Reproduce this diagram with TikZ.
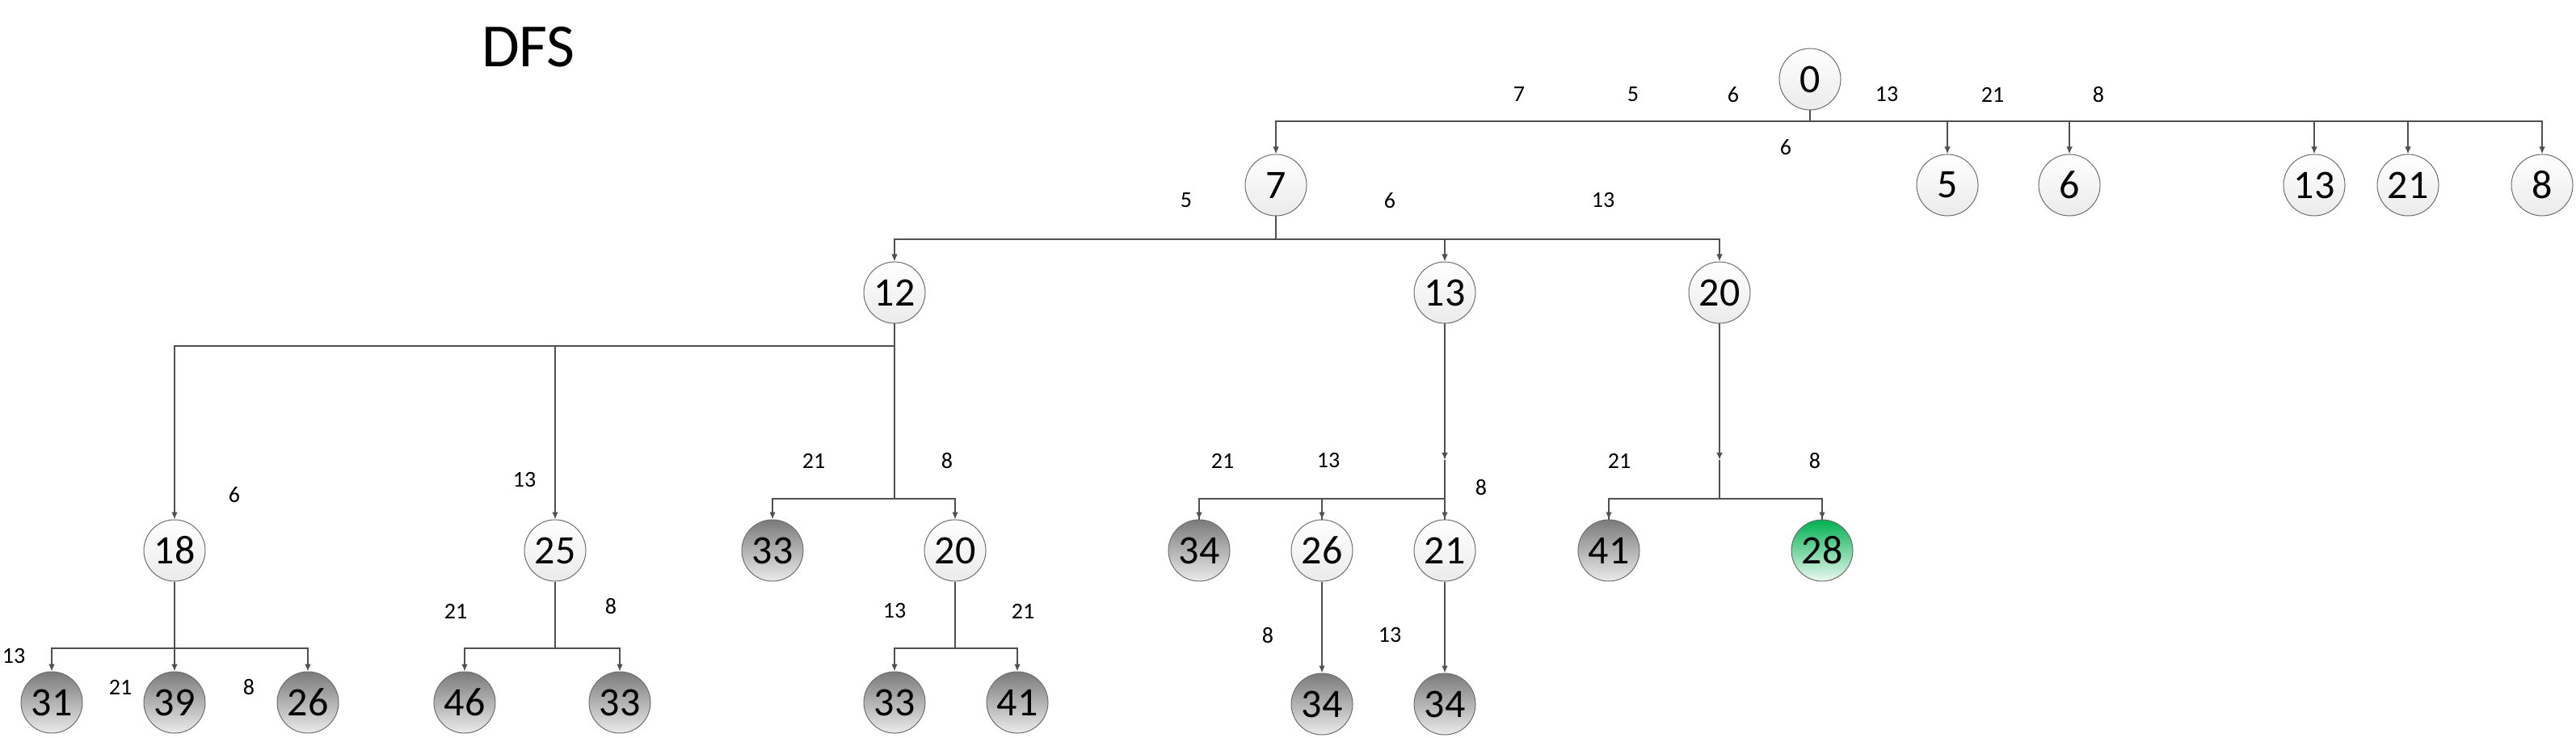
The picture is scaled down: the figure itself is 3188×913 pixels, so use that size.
\documentclass[tikz,border=0pt]{standalone}
\usepackage{fontspec}
\setmainfont{Carlito}
\usepackage{tikz}
\usetikzlibrary{arrows.meta, positioning, calc, shapes}

\definecolor{linkgray}{RGB}{80,80,80}
\definecolor{rimgray}{RGB}{110,110,110}
\definecolor{goalgreen}{RGB}{0,176,80}

\begin{document}
\begin{tikzpicture}[x=0.5pt,y=-0.5pt,
  vertex/.style={circle,draw=rimgray,line width=0.5pt,minimum size=38pt,inner sep=0pt,
    font=\fontsize{25}{25}\selectfont},
  open/.style={vertex,top color=white,bottom color=black!8},
  done/.style={vertex,top color=black!52,bottom color=black!8},
  goal/.style={vertex,top color=goalgreen,bottom color=goalgreen!8},
  weight/.style={inner sep=0pt,font=\fontsize{14}{14}\selectfont},
  link/.style={draw=linkgray,line width=0.7pt},
  arr/.style={link,-{Latex[length=4.5pt,width=3.8pt]}}]
\useasboundingbox (0,0) rectangle (3188,913);

\node[font=\fontsize{38}{38}\selectfont] (title) at (654,58) {DFS};

% level 0 and 1
\node[open] (n0) at (2240,98) {0};
\node[open] (a7) at (1579,229) {7};
\node[open] (a5) at (2410,229) {5};
\node[open] (a6) at (2561,229) {6};
\node[open] (a13) at (2864,229) {13};
\node[open] (a21) at (2980,229) {21};
\node[open] (a8) at (3146,229) {8};
\coordinate (j0) at (2240,150);
\foreach \c in {a7,a5,a6,a13,a21,a8} {
  \draw[arr] (n0) -- (j0) -| (\c);
}

% level 2
\node[open] (b12) at (1107,362) {12};
\node[open] (b13) at (1788,362) {13};
\node[open] (b20) at (2128,362) {20};
\coordinate (j7) at (1579,296);
\foreach \c in {b12,b13,b20} {
  \draw[arr] (a7) -- (j7) -| (\c);
}

% level 3
\node[open] (c18) at (216,681) {18};
\node[open] (c25) at (687,681) {25};
\node[done] (c33) at (956,681) {33};
\node[open] (c20) at (1182,681) {20};
\node[done] (c34) at (1484,681) {34};
\node[open] (c26) at (1636,681) {26};
\node[open] (c21) at (1788,681) {21};
\node[done] (c41) at (1991,681) {41};
\node[goal] (c28) at (2255,681) {28};

\coordinate (j12a) at (1107,428);
\coordinate (j12b) at (1107,617);
\foreach \c in {c18,c25} {
  \draw[arr] (b12) -- (j12a) -| (\c);
}
\foreach \c in {c33,c20} {
  \draw[arr] (b12) -- (j12b) -| (\c);
}
\coordinate (m13) at (1788,569);
\coordinate (j13) at (1788,617);
\foreach \c in {c34,c26,c21} {
  \draw[link] (m13) -- (j13) -| (\c);
  \draw[arr] ($(\c.north)+(0,-12)$) -- (\c);
}
\draw[arr] (b13) -- (m13);
\coordinate (m20) at (2128,569);
\coordinate (j20) at (2128,617);
\foreach \c in {c41,c28} {
  \draw[link] (m20) -- (j20) -| (\c);
  \draw[arr] ($(\c.north)+(0,-12)$) -- (\c);
}
\draw[arr] (b20) -- (m20);

% level 4
\node[done] (d31) at (64,869) {31};
\node[done] (d39) at (216,869) {39};
\node[done] (d26) at (381,869) {26};
\node[done] (d46) at (575,869) {46};
\node[done] (d33) at (767,869) {33};
\node[done] (e33) at (1107,869) {33};
\node[done] (e41) at (1259,869) {41};
\node[done] (f34) at (1636,871) {34};
\node[done] (g34) at (1788,871) {34};

\coordinate (j18) at (216,802);
\foreach \c in {d31,d39,d26} {
  \draw[arr] (c18) -- (j18) -| (\c);
}
\coordinate (j25) at (687,802);
\foreach \c in {d46,d33} {
  \draw[arr] (c25) -- (j25) -| (\c);
}
\coordinate (j20b) at (1182,802);
\foreach \c in {e33,e41} {
  \draw[arr] (c20) -- (j20b) -| (\c);
}
\draw[arr] (c26) -- (f34);
\draw[arr] (c21) -- (g34);

% edge weights
\foreach \x/\y/\w [count=\i] in {
  1880/117/7, 2021/117/5, 2145/117/6, 2335/117/13, 2466/117/21, 2597/117/8, 2210/182/6,
  1468/248/5, 1720/248/6, 1984/248/13,
  290/612/6, 649/594/13, 1007/570/21, 1172/570/8,
  1513/570/21, 1644/570/13, 1833/603/8, 2004/570/21, 2246/570/8,
  17/812/13, 149/850/21, 308/850/8, 564/756/21, 756/750/8,
  1107/756/13, 1266/756/21, 1569/786/8, 1720/786/13} {
  \node[weight] (w\i) at (\x,\y) {\w};
}
\end{tikzpicture}
\end{document}
